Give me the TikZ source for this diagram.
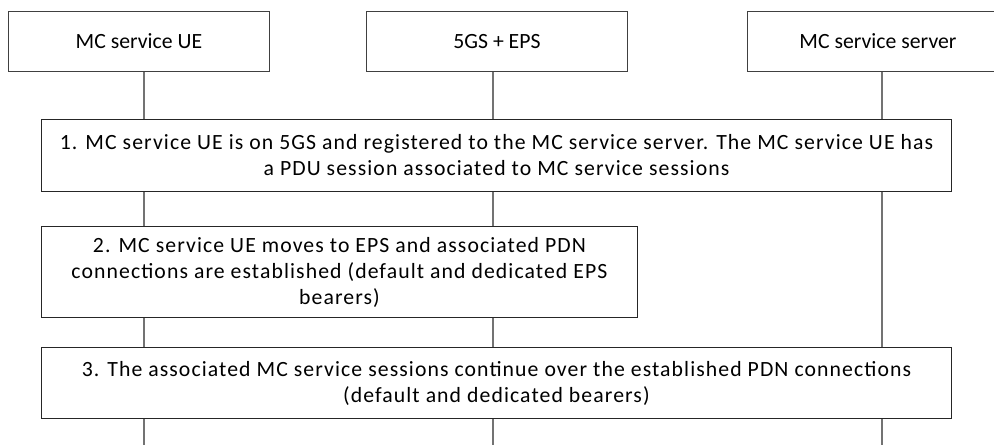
\documentclass[tikz,border=0pt]{standalone}
\usepackage{fontspec}
\setmainfont{Carlito}
\newfontfamily\stepfont[LetterSpace=5]{Carlito}
\usetikzlibrary{positioning}

\tikzset{
  headbox/.style={draw=black!75, line width=0.7pt, anchor=north west, minimum width=195.75pt, minimum height=45pt, inner sep=0pt, font=\fontsize{16.3}{19.5}\selectfont},
  stepbox/.style={draw=black!85, line width=0.7pt, fill=white, anchor=north west, inner sep=0pt, align=center, font=\stepfont\fontsize{16.3}{19.5}\selectfont},
  lifeline/.style={draw=black!55, line width=1pt}
}

\begin{document}
\begin{tikzpicture}[x=0.75pt,y=-0.75pt]
\useasboundingbox (0,0) rectangle (994,445);

% entities
\node[headbox] (ue) at (8,11) {MC service UE};
\node[headbox] (net) at (366,11) {5GS + EPS};
\node[headbox] (srv) at (747,11) {MC service server};

% lifelines
\coordinate (ueend) at (144,445);
\coordinate (netend) at (493,445);
\coordinate (srvend) at (882,445);
\draw[lifeline] (ueend |- ue.south) -- (ueend);
\draw[lifeline] (netend |- net.south) -- (netend);
\draw[lifeline] (srvend |- srv.south) -- (srvend);

% steps
\node[stepbox, minimum width=682.5pt, minimum height=54pt] (s1) at (41,119)
  {1. MC service UE is on 5GS and registered to the MC service server. The MC service UE has\\
   a PDU session associated to MC service sessions};
\node[stepbox, minimum width=447pt, minimum height=68.25pt] (s2) at (41,226)
  {2. MC service UE moves to EPS and associated PDN\\
   connections are established (default and dedicated EPS\\
   bearers)};
\node[stepbox, minimum width=682.5pt, minimum height=53.6pt] (s3) at (41,347)
  {3. The associated MC service sessions continue over the established PDN connections\\
   (default and dedicated bearers)};

\end{tikzpicture}
\end{document}
